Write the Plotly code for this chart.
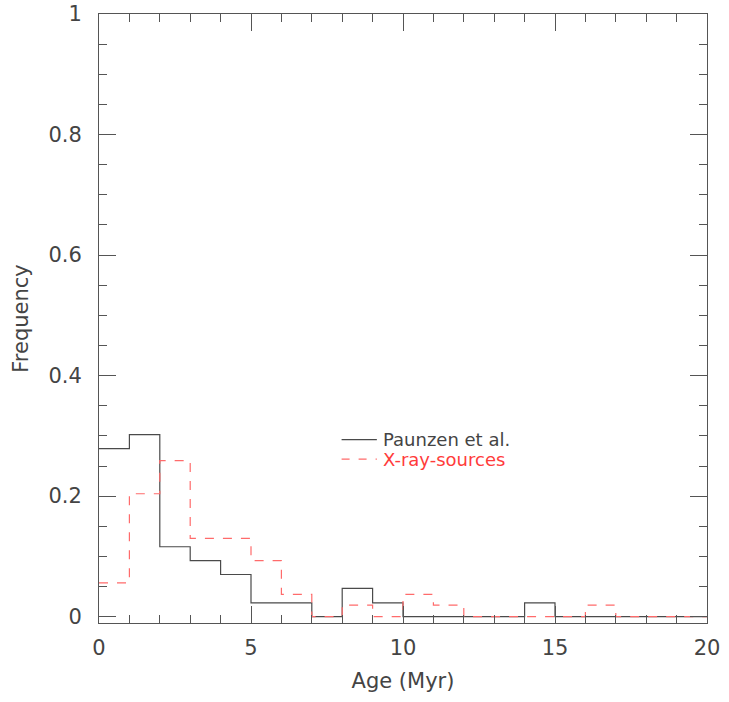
import plotly.graph_objects as go

# ── Histogram data (bin edges 0..20 Myr, width 1) ───────────────────────────
BIN_EDGES = list(range(0, 21))
PAUNZEN = [0.279, 0.302, 0.116, 0.093, 0.070, 0.023, 0.023, 0.0, 0.047, 0.023,
           0.0, 0.0, 0.0, 0.0, 0.023, 0.0, 0.0, 0.0, 0.0, 0.0]
XRAY = [0.056, 0.204, 0.259, 0.130, 0.130, 0.093, 0.037, 0.0, 0.019, 0.0,
        0.037, 0.019, 0.0, 0.0, 0.0, 0.0, 0.019, 0.0, 0.0, 0.0]
LABELS = ["Paunzen et al.", "X-ray-sources"]

FONT = "DejaVu Sans"
TEXT = "#444444"
AXIS_GREY = "#555555"
BLACK_LINE = "#4a4a4a"
RED_LINE = "#ff6b6b"
RED_TEXT = "#ff3b3b"

fig = go.Figure()
fig.add_trace(go.Scatter(
    x=BIN_EDGES, y=PAUNZEN + [PAUNZEN[-1]],
    mode="lines", line_shape="hv", name=LABELS[0],
    line=dict(color=BLACK_LINE, width=1.2),
))
fig.add_trace(go.Scatter(
    x=BIN_EDGES, y=XRAY + [XRAY[-1]],
    mode="lines", line_shape="hv", name=LABELS[1],
    line=dict(color=RED_LINE, width=1.2, dash="dash"),
))

# hand-placed legend, PGPLOT style
LEG_Y = [0.301, 0.269]
fig.add_shape(type="line", xref="paper", yref="paper", x0=0.399, x1=0.457, y0=LEG_Y[0], y1=LEG_Y[0],
              line=dict(color=BLACK_LINE, width=1.2))
fig.add_shape(type="line", xref="paper", yref="paper", x0=0.399, x1=0.457, y0=LEG_Y[1], y1=LEG_Y[1],
              line=dict(color=RED_LINE, width=1.2, dash="8px,9px"))
fig.add_annotation(x=0.463, y=LEG_Y[0], xref="paper", yref="paper", text=LABELS[0],
                   showarrow=False, xanchor="left", yanchor="middle",
                   font=dict(family=FONT, size=18, color=TEXT))
fig.add_annotation(x=0.463, y=LEG_Y[1], xref="paper", yref="paper", text=LABELS[1],
                   showarrow=False, xanchor="left", yanchor="middle",
                   font=dict(family=FONT, size=18, color=RED_TEXT))

axis_common = dict(
    showgrid=False, zeroline=False, automargin=False, ticklabeloverflow="allow",
    showline=True, linecolor=AXIS_GREY, linewidth=1, mirror="ticks",
    ticks="inside", ticklen=17, tickcolor=AXIS_GREY, tickwidth=1,
    tickfont=dict(family=FONT, size=21, color=TEXT),
)

fig.update_layout(
    width=729, height=702,
    paper_bgcolor="white", plot_bgcolor="white",
    font=dict(family=FONT, color=TEXT),
    margin=dict(l=99, r=22, t=14, b=79),
    showlegend=False,
    xaxis=dict(
        **axis_common, range=[0, 20], tickvals=[0, 5, 10, 15, 20],
        ticklabelstandoff=6,
        minor=dict(dtick=1, ticklen=8, ticks="inside", tickcolor=AXIS_GREY),
        title=dict(text="Age (Myr)", font=dict(family=FONT, size=21, color=TEXT), standoff=14),
    ),
    yaxis=dict(
        **axis_common, range=[-0.0105, 1], tickvals=[0, 0.2, 0.4, 0.6, 0.8, 1],
        ticktext=["0", "0.2", "0.4", "0.6", "0.8", "1"], ticklabelstandoff=12,
        minor=dict(dtick=0.05, tick0=0, ticklen=8, ticks="inside", tickcolor=AXIS_GREY),
        title=dict(text="Frequency", font=dict(family=FONT, size=21, color=TEXT), standoff=14),
    ),
)

fig.write_html("out.html", config={"displayModeBar": False},
               post_script="document.body.style.margin='0';")
